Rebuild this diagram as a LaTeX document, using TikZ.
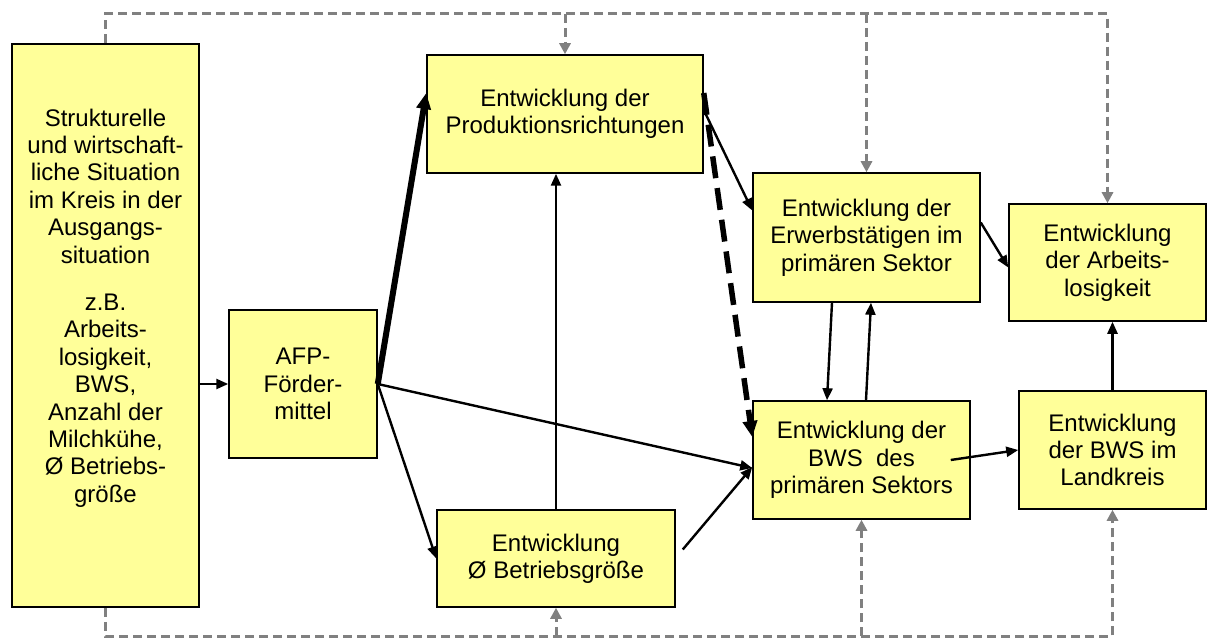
\documentclass[tikz,border=0pt]{standalone}
\usepackage{fontspec}
\setmainfont{Liberation Sans}
\usetikzlibrary{arrows.meta}
\definecolor{Paper}{HTML}{FFFFFF}
\definecolor{BoxFill}{HTML}{FFFF99}
\definecolor{Ink}{HTML}{000000}
\definecolor{Loop}{HTML}{808080}
\tikzset{
  infobox/.style={draw=Ink,fill=BoxFill,line width=1.5pt,align=center,font=\fontsize{24}{27.4}\selectfont,text=Ink,inner sep=0pt},
  plaintext/.style={align=center,font=\fontsize{24}{27.4}\selectfont,text=Ink,inner sep=0pt},
  line/.style={-{Triangle[length=12pt,width=10pt]},draw=Ink,line width=2.4pt},
  boldline/.style={-{Triangle[length=16pt,width=14pt]},draw=Ink,line width=6pt},
  dashline/.style={-{Triangle[length=16pt,width=14pt]},draw=Ink,line width=5.5pt,dash pattern=on 22pt off 10pt},
  loopline/.style={-{Triangle[length=11pt,width=11pt]},draw=Loop,line width=3pt,dash pattern=on 9pt off 5pt}
}
\begin{document}
\begin{tikzpicture}[x=1pt,y=-1pt]
  \useasboundingbox[fill=Paper] (0,0) rectangle (1216,639);
  \coordinate (topline) at (0,14);
  \coordinate (botline) at (0,636);
  \node[infobox,minimum width=187pt,minimum height=563pt] (sit) at (105.5,325.5) {};
  \node[plaintext] (sittext) at (105.5,308) {Strukturelle\\und wirtschaft-\\liche Situation\\im Kreis in der\\Ausgangs-\\situation\\[20pt]z.B.\\Arbeits-\\losigkeit,\\BWS,\\Anzahl der\\Milchkühe,\\Ø Betriebs-\\größe};
  \node[infobox,minimum width=148pt,minimum height=148pt] (afp) at (303,384) {AFP-\\Förder-\\mittel};
  \node[infobox,minimum width=276pt,minimum height=118pt] (prod) at (565,114) {Entwicklung der\\Produktionsrichtungen};
  \node[infobox,minimum width=238pt,minimum height=97pt] (betr) at (556,558.5) {Entwicklung\\Ø Betriebsgröße};
  \node[infobox,minimum width=227pt,minimum height=129pt] (erwerb) at (866.5,237.5) {Entwicklung der\\Erwerbstätigen im\\primären Sektor};
  \node[infobox,minimum width=217pt,minimum height=118pt] (bwsp) at (861.5,460) {Entwicklung der\\BWS~~des\\primären Sektors};
  \node[infobox,minimum width=197pt,minimum height=117pt] (alos) at (1107.5,262.5) {Entwicklung\\der Arbeits-\\losigkeit};
  \node[infobox,minimum width=187pt,minimum height=118pt] (bwslk) at (1112.5,450) {Entwicklung\\der BWS im\\Landkreis};
  % feedback loops
  \draw[loopline] (sit.north) -- (sit.north |- topline) -| (alos.north);
  \draw[loopline] (prod.north |- topline) -- (prod.north);
  \draw[loopline] (erwerb.north |- topline) -- (erwerb.north);
  \draw[loopline] (sit.south) -- (sit.south |- botline) -| (bwslk.south);
  \draw[loopline] (betr.south |- botline) -- (betr.south);
  \draw[loopline] (bwsp.south |- botline) -- (bwsp.south);
  % main effects
  \draw[line] (sit.east |- afp.west) -- (afp.west);
  \draw[boldline] (afp.east) -- ([yshift=21pt]prod.west);
  \draw[line] (afp.east) -- (betr.west);
  \draw[line] (afp.east) -- ([yshift=-8pt]bwsp.west);
  \draw[line] (betr.north) -- (betr.north |- prod.south);
  \draw[line] ([xshift=7pt,yshift=9pt]betr.east) -- ([yshift=-7pt]bwsp.west);
  \draw[line] ([yshift=4pt]prod.east) -- ([yshift=27pt]erwerb.west);
  \draw[dashline] ([yshift=21pt]prod.east) -- ([yshift=23pt]bwsp.west);
  \draw[line] ([xshift=-34.5pt]erwerb.south) -- ([xshift=-34.5pt]bwsp.north);
  \draw[line] ([xshift=4.5pt]bwsp.north) -- ([xshift=4.5pt]erwerb.south);
  \draw[line] ([yshift=15pt]erwerb.east) -- ([yshift=-5pt]alos.west);
  \draw[line] ([xshift=-20pt]bwsp.east) -- (bwslk.west);
  \draw[line] (bwslk.north) -- (bwslk.north |- alos.south);
\end{tikzpicture}
\end{document}
